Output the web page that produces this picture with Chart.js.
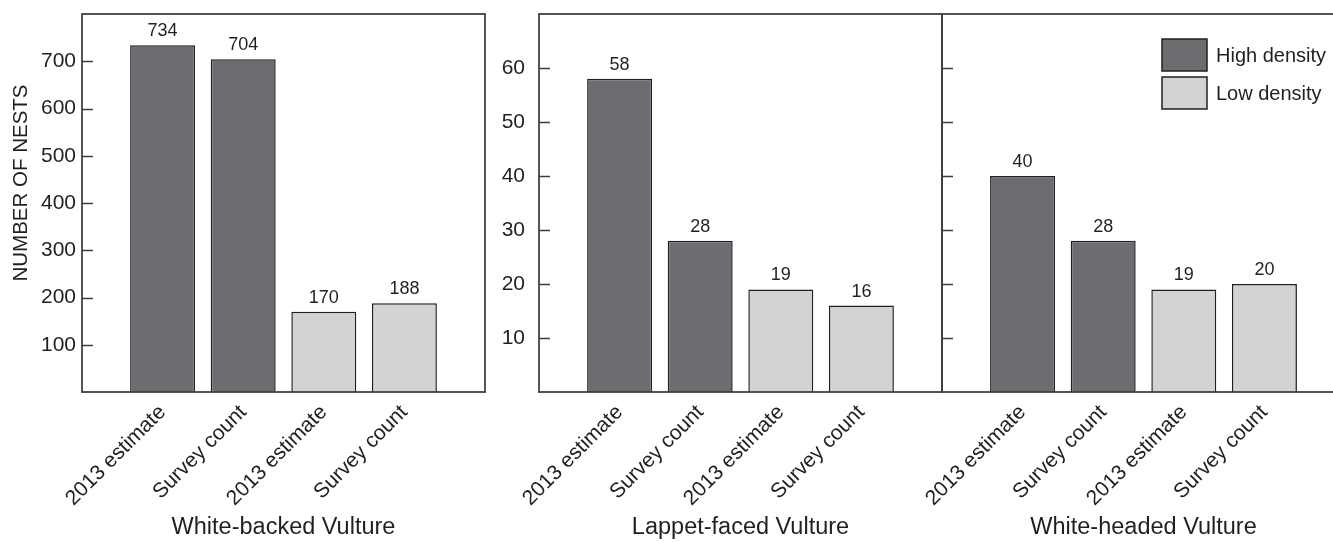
<!DOCTYPE html>
<html>
<head>
<meta charset="utf-8">
<title>Vulture nests</title>
<script src="https://cdn.jsdelivr.net/npm/chart.js@4.4.1/dist/chart.umd.min.js"></script>
<style>
  html, body { margin: 0; padding: 0; background: #fff; overflow: hidden; }
  body { width: 1333px; height: 542px; position: relative; }
  .panel { position: absolute; top: 0; height: 542px; }
  #p1 { left: 0; width: 490px; }
  #p2 { left: 490px; width: 455px; }
  #p3 { left: 900px; width: 455px; }
</style>
</head>
<body>
<div class="panel" id="p1"><canvas id="c1"></canvas></div>
<div class="panel" id="p2"><canvas id="c2"></canvas></div>
<div class="panel" id="p3"><canvas id="c3"></canvas></div>
<script>
// ---- data ----
const categories = ['2013 estimate', 'Survey count', '2013 estimate', 'Survey count'];
const seriesLabels = ['High density', 'Low density'];
const speciesNames = ['White-backed Vulture', 'Lappet-faced Vulture', 'White-headed Vulture'];

const whiteBackedHigh = [734, 704, null, null];
const whiteBackedLow = [null, null, 170, 188];
const lappetHigh = [58, 28, null, null];
const lappetLow = [null, null, 19, 16];
const whiteHeadedHigh = [40, 28, null, null];
const whiteHeadedLow = [null, null, 19, 20];

const yTicksLarge = [100, 200, 300, 400, 500, 600, 700];
const yTicksSmall = [10, 20, 30, 40, 50, 60];
const yTitle = 'NUMBER OF NESTS';

// ---- styles ----
const FONT = "'Liberation Sans', Arial, Helvetica, sans-serif";
const INK = '#231f20';
const AXIS = '#3d3d3d';
const DARK = '#6c6d70';
const LIGHT = '#d1d3d4';

Chart.defaults.font.family = FONT;
Chart.defaults.color = INK;

// draws the frame, inward ticks, value labels, y title and legend
const panelDecor = {
  id: 'panelDecor',
  afterDraw(chart, args, opts) {
    const { ctx, chartArea: a } = chart;
    const y = chart.scales.y;
    ctx.save();
    ctx.strokeStyle = AXIS;
    ctx.lineWidth = 1.75;
    ctx.strokeRect(a.left, a.top, a.right - a.left, a.bottom - a.top);

    ctx.beginPath();
    y.ticks.forEach((t) => {
      const py = Math.round(y.getPixelForValue(t.value)) + 0.5;
      ctx.moveTo(a.left, py);
      ctx.lineTo(a.left + 11, py);
    });
    ctx.lineWidth = 1.5;
    ctx.stroke();

    // value labels on top of bars
    ctx.fillStyle = INK;
    ctx.font = '18px ' + FONT;
    ctx.textAlign = 'center';
    ctx.textBaseline = 'alphabetic';
    chart.data.datasets.forEach((ds, di) => {
      chart.getDatasetMeta(di).data.forEach((bar, i) => {
        const v = ds.data[i];
        if (v == null) return;
        ctx.fillText(String(v), bar.x, bar.y - 9);
      });
    });

    if (opts.yTitle) {
      ctx.save();
      ctx.translate(21.5, (a.top + a.bottom) / 2 - 20);
      ctx.rotate(-Math.PI / 2);
      ctx.font = '20.5px ' + FONT;
      ctx.textBaseline = 'middle';
      ctx.fillText(opts.yTitle, 0, 0);
      ctx.restore();
    }

    if (opts.legend) {
      const bx = a.right - 183;
      ctx.font = '20px ' + FONT;
      ctx.textAlign = 'left';
      ctx.textBaseline = 'middle';
      chart.data.datasets.forEach((ds, i) => {
        const by = a.top + 25 + i * 38;
        ctx.fillStyle = ds.backgroundColor;
        ctx.fillRect(bx, by, 45, 32);
        ctx.strokeStyle = INK;
        ctx.lineWidth = 1.5;
        ctx.strokeRect(bx, by, 45, 32);
        ctx.fillStyle = INK;
        ctx.fillText(ds.label, bx + 54, by + 17);
      });
    }
    ctx.restore();
  }
};

function makePanel(id, high, low, species, yMax, yTicks, cfg) {
  const labels = ['', ...categories, ''];
  const pad = (arr) => [null, ...arr, null];
  const barStyle = {
    borderColor: INK,
    borderWidth: 1.5,
    grouped: false,
    categoryPercentage: 1,
    barPercentage: 0.806
  };
  return new Chart(document.getElementById(id), {
    type: 'bar',
    data: {
      labels,
      datasets: [
        { label: seriesLabels[0], data: pad(high), backgroundColor: DARK, ...barStyle },
        { label: seriesLabels[1], data: pad(low), backgroundColor: LIGHT, ...barStyle }
      ]
    },
    plugins: [panelDecor],
    options: {
      responsive: true,
      maintainAspectRatio: false,
      animation: false,
      layout: { padding: { top: 14, right: cfg.padRight, bottom: 0, left: 0 } },
      plugins: {
        legend: { display: false },
        tooltip: { enabled: false },
        panelDecor: { yTitle: cfg.yTitle, legend: cfg.legend }
      },
      scales: {
        x: {
          type: 'category',
          offset: false,
          grid: { display: false, drawTicks: false },
          border: { display: false },
          ticks: {
            autoSkip: false,
            minRotation: 45,
            maxRotation: 45,
            padding: 8,
            color: INK,
            font: { size: 21 }
          },
          title: {
            display: true,
            text: species,
            color: INK,
            font: { size: 23.5 },
            padding: 0
          },
          afterFit(s) {
            s.height = 150;
            s.paddingLeft = 0;
            s.paddingRight = 0;
          }
        },
        y: {
          min: 0,
          max: yMax,
          grid: { display: false, drawTicks: false },
          border: { display: false },
          ticks: {
            display: cfg.showTicks,
            padding: cfg.tickPad,
            color: INK,
            font: { size: 21 }
          },
          afterBuildTicks(s) {
            s.ticks = yTicks.map((v) => ({ value: v }));
          },
          afterFit(s) {
            s.width = cfg.yWidth;
            s.paddingTop = 0;
            s.paddingBottom = 0;
          }
        }
      }
    }
  });
}

makePanel('c1', whiteBackedHigh, whiteBackedLow, speciesNames[0], 800, yTicksLarge,
  { yWidth: 82, padRight: 5, showTicks: true, tickPad: 6, yTitle: yTitle });
makePanel('c2', lappetHigh, lappetLow, speciesNames[1], 70, yTicksSmall,
  { yWidth: 49, padRight: 3, showTicks: true, tickPad: 14 });
makePanel('c3', whiteHeadedHigh, whiteHeadedLow, speciesNames[2], 70, yTicksSmall,
  { yWidth: 42, padRight: 10, showTicks: false, tickPad: 0, legend: true });
</script>
</body>
</html>
